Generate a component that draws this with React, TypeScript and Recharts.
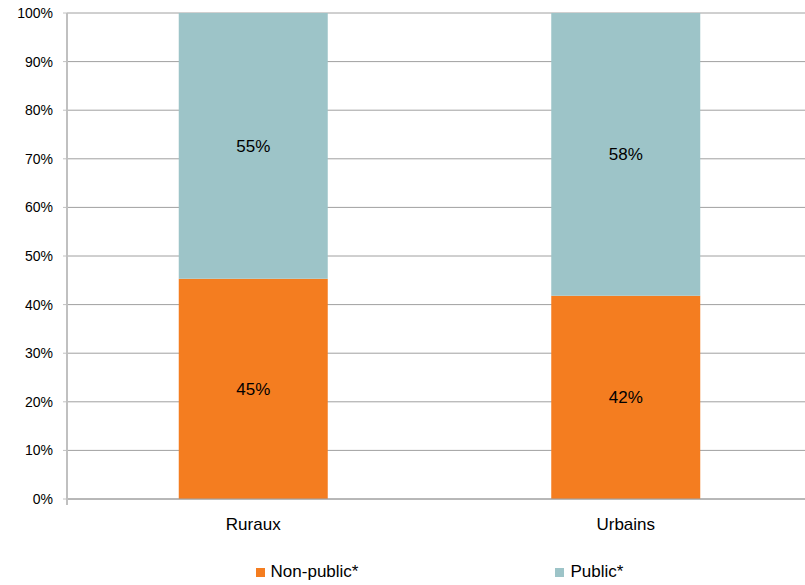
import { BarChart, Bar, XAxis, YAxis, CartesianGrid, Legend, LabelList } from "recharts";

const categories = ["Ruraux", "Urbains"];
const nonPublicShare = [45.3, 41.8];
const publicShare = [54.7, 58.2];
const yTicks = [0, 10, 20, 30, 40, 50, 60, 70, 80, 90, 100];
const separatorTicks = [0, 1, 2];

const seriesInfo = [
  { key: "nonPublic", name: "Non-public*", color: "#F47D20" },
  { key: "public", name: "Public*", color: "#9DC4C8" },
];

const data = categories.map((name, i) => ({
  name,
  nonPublic: nonPublicShare[i],
  public: publicShare[i],
}));

const FONT = "'Liberation Sans', Arial, sans-serif";

const pct = (v: number) => `${Math.round(v)}%`;

// legend drawn as two items with a wide gap, like the original
const LegendBox = () => (
  <div
    style={{
      display: "flex",
      justifyContent: "center",
      alignItems: "center",
      gap: 197,
      height: 22,
      fontFamily: FONT,
      fontSize: 17,
      color: "#000",
    }}
  >
    {seriesInfo.map((s) => (
      <span key={s.key} style={{ display: "flex", alignItems: "center", gap: 6 }}>
        <span style={{ width: 9, height: 9, background: s.color, display: "inline-block" }} />
        {s.name}
      </span>
    ))}
  </div>
);

export default function App() {
  return (
    <div
      style={{
        position: "absolute",
        left: 0,
        top: 0,
        width: 805,
        height: 585,
        overflow: "hidden",
        background: "#fff",
      }}
    >
      <BarChart
        width={812}
        height={585}
        data={data}
        margin={{ top: 13, right: 0, left: 0, bottom: 0 }}
        barCategoryGap="30%"
        style={{ fontFamily: FONT }}
      >
        <CartesianGrid vertical={false} stroke="#a0a0a0" xAxisId="axB" />
        {/* numeric axis only used for the tick marks between categories */}
        <XAxis
          xAxisId="axA"
          type="number"
          domain={[0, 2]}
          ticks={separatorTicks}
          interval={0}
          allowDataOverflow
          height={1}
          tickSize={6}
          tickFormatter={() => ""}
          axisLine={{ stroke: "#a0a0a0" }}
          tickLine={{ stroke: "#c0c0c0", strokeWidth: 2 }}
        />
        <XAxis
          xAxisId="axB"
          dataKey="name"
          height={63}
          axisLine={false}
          tickLine={false}
          tickSize={6}
          tickMargin={12}
          tick={{ fill: "#000", fontSize: 17 }}
        />
        <YAxis
          width={67}
          domain={[0, 100]}
          ticks={yTicks}
          tickFormatter={(v) => `${v}%`}
          tickSize={4}
          tickMargin={10}
          tick={{ fill: "#000", fontSize: 14 }}
          axisLine={{ stroke: "#c0c0c0", strokeWidth: 2 }}
          tickLine={{ stroke: "#c0c0c0" }}
          interval={0}
        />
        <Legend
          content={() => <LegendBox />}
          wrapperStyle={{ left: 67, width: 745, bottom: 2 }}
        />
        {seriesInfo.map((s) => (
          <Bar
            key={s.key}
            xAxisId="axB"
            dataKey={s.key}
            name={s.name}
            stackId="a"
            fill={s.color}
            isAnimationActive={false}
          >
            <LabelList
              dataKey={s.key}
              position="center"
              formatter={(v: any) => pct(Number(v))}
              style={{ fill: "#000", fontSize: 17, fontFamily: FONT }}
            />
          </Bar>
        ))}
      </BarChart>
    </div>
  );
}
